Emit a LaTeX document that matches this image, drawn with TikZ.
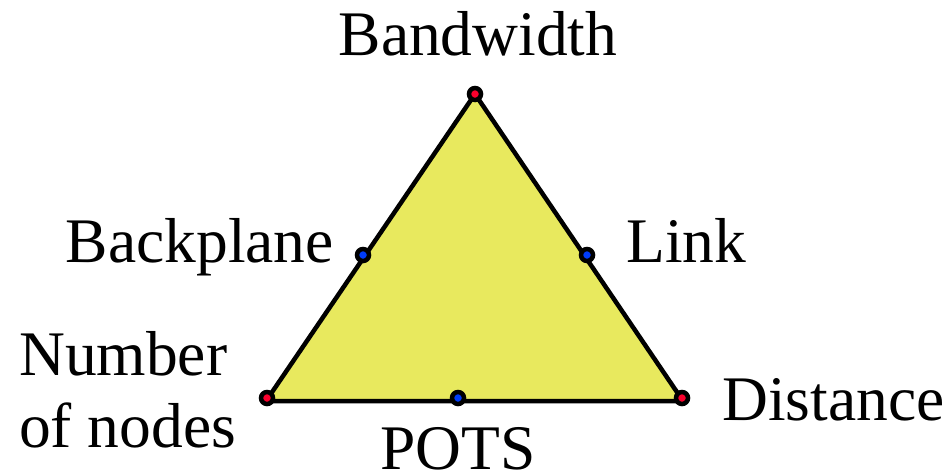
\documentclass[tikz,border=0pt]{standalone}
\usepackage{fontspec}
\setmainfont{Liberation Serif}
\definecolor{trifill}{RGB}{232,233,94}
\definecolor{dotred}{RGB}{250,0,45}
\definecolor{dotblue}{RGB}{0,60,250}
\begin{document}
\begin{tikzpicture}[x=1pt,y=-1pt,
  lbl/.style={font=\fontsize{63.5}{70}\selectfont, inner sep=0pt, anchor=base},
  enddot/.style={circle, draw=black, line width=4.5pt, fill=dotred, minimum size=12pt, inner sep=0pt},
  middot/.style={circle, draw=black, line width=4.5pt, fill=dotblue, minimum size=12pt, inner sep=0pt}]
  \useasboundingbox (0,0) rectangle (949,472);
  % triangle
  \coordinate (A) at (475,94);
  \coordinate (L) at (266,401);
  \coordinate (R) at (683,401);
  \filldraw[fill=trifill, draw=black, line width=4.5pt, line join=miter] (A) -- (L) -- (R) -- cycle;
  % points on the triangle
  \node[enddot] (top) at (475,94) {};
  \node[enddot] (bl) at (267,398) {};
  \node[enddot] (br) at (682,398) {};
  \node[middot] (lm) at (363,255) {};
  \node[middot] (rm) at (587,255) {};
  \node[middot] (bm) at (458,398) {};
  % labels
  \node[lbl] (bw) at (478,55) {Bandwidth};
  \node[lbl, anchor=base east] (bp) at (334,262) {Backplane};
  \node[lbl, anchor=base west] (lk) at (626,262) {Link};
  \node[lbl, anchor=base west] (nn1) at (19,375) {Number};
  \node[lbl, anchor=base west] (nn2) at (19,447) {of nodes};
  \node[lbl, anchor=base west] (ds) at (722,420) {Distance};
  \node[lbl] (pt) at (458,469) {POTS};
\end{tikzpicture}
\end{document}
